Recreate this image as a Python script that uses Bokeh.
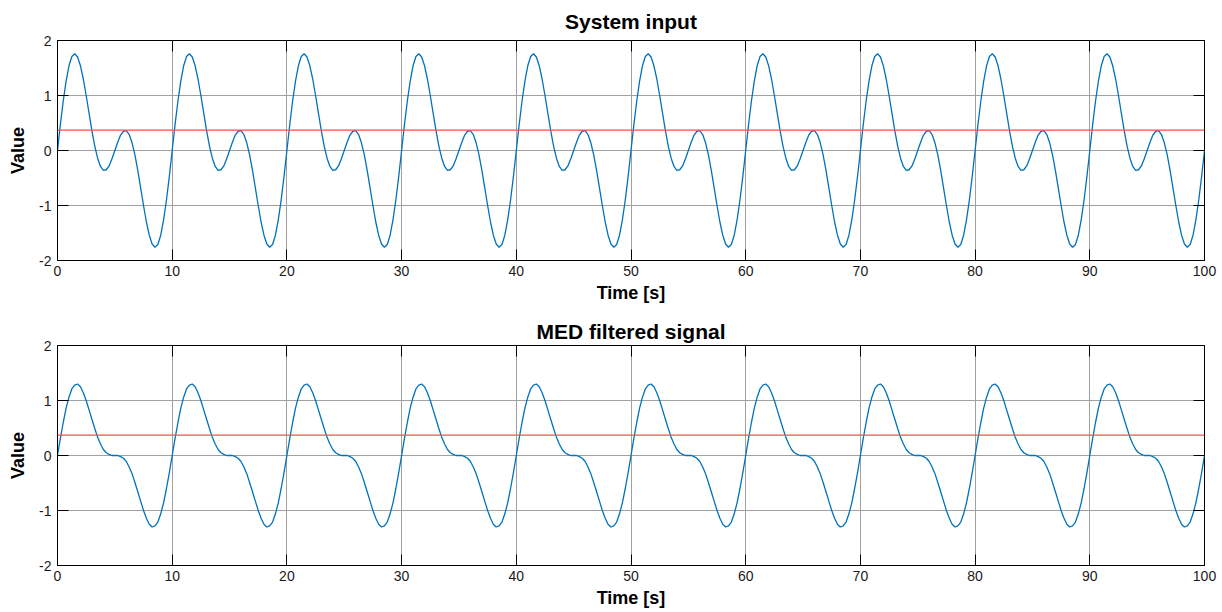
from bokeh.plotting import figure
from bokeh.models import Range1d, LinearAxis, Span, FixedTicker
from bokeh.layouts import column
from bokeh.embed import file_html
from bokeh.resources import INLINE

# One 10 s period of each signal, sampled every 0.25 s (t = 0 .. 9.75)
sample_step = 0.25
n_periods = 10

input_period = [
    0.00, 0.47, 0.90, 1.26, 1.54, 1.71, 1.76, 1.70, 1.54, 1.30,
    1.00, 0.68, 0.36, 0.08, -0.14, -0.29, -0.36, -0.35, -0.28, -0.15,
    0.00, 0.15, 0.28, 0.35, 0.36, 0.29, 0.14, -0.08, -0.36, -0.68,
    -1.00, -1.30, -1.54, -1.70, -1.76, -1.71, -1.54, -1.26, -0.90, -0.47,
]

med_period = [
    0.00, 0.31, 0.60, 0.86, 1.06, 1.21, 1.28, 1.30, 1.25, 1.14,
    1.00, 0.83, 0.66, 0.49, 0.33, 0.21, 0.11, 0.05, 0.02, 0.00,
    0.00, 0.00, -0.02, -0.05, -0.11, -0.21, -0.33, -0.49, -0.66, -0.83,
    -1.00, -1.14, -1.25, -1.30, -1.28, -1.21, -1.06, -0.86, -0.60, -0.31,
]

threshold = 0.37

x_ticks = [0, 10, 20, 30, 40, 50, 60, 70, 80, 90, 100]
y_ticks = [-2, -1, 0, 1, 2]
y_tick_labels = {-2: "-2", -1: "-1", 0: "0", 1: "1", 2: "2"}

titles = ["System input", "MED filtered signal"]
x_label = "Time [s]"
y_label = "Value"

# Full 100 s records: the period repeats, closing at t = 100
time = [i * sample_step for i in range(len(input_period) * n_periods + 1)]
input_signal = input_period * n_periods + [input_period[0]]
med_signal = med_period * n_periods + [med_period[0]]

FONT = "Liberation Sans"
LINE_BLUE = "#0072BD"
GRID = "#a0a0a0"


def style_axis(ax, ticks, show_labels):
    ax.ticker = FixedTicker(ticks=ticks)
    ax.major_tick_in = 11
    ax.major_tick_out = 0
    ax.minor_tick_in = 0
    ax.minor_tick_out = 0
    ax.major_tick_line_color = "black"
    ax.axis_line_color = "black"
    ax.major_label_text_font = FONT
    ax.major_label_text_font_size = "14px"
    ax.major_label_text_color = "#1a1a1a"
    if not show_labels:
        ax.major_label_text_color = None
        ax.major_label_text_font_size = "1px"
        ax.major_label_standoff = 0
        ax.axis_line_color = None


def make_panel(title, signal, top, bottom, title_gap):
    p = figure(
        frame_width=1147, frame_height=220,
        x_range=Range1d(0, 100), y_range=Range1d(-2, 2),
        output_backend="svg", toolbar_location=None,
        min_border_left=57, min_border_right=18,
        min_border_top=top, min_border_bottom=bottom,
        background_fill_color="white", border_fill_color="white",
    )
    p.outline_line_color = "black"
    p.outline_line_width = 1

    p.title.text = title
    p.title.align = "center"
    p.title.text_font = FONT
    p.title.text_font_style = "bold"
    p.title.text_font_size = "21px"
    p.title.text_color = "black"
    p.title.standoff = title_gap

    p.xaxis.axis_label = x_label
    p.yaxis.axis_label = y_label
    style_axis(p.xaxis[0], x_ticks, True)
    style_axis(p.yaxis[0], y_ticks, True)
    for ax in (p.xaxis[0], p.yaxis[0]):
        ax.axis_label_text_font = FONT
        ax.axis_label_text_font_style = "bold"
        ax.axis_label_text_font_size = "18px"
        ax.axis_label_text_color = "black"
    p.xaxis.major_label_standoff = 5
    p.yaxis.major_label_standoff = 6
    p.xaxis.axis_label_standoff = 4
    p.yaxis.axis_label_standoff = 8
    p.yaxis.major_label_overrides = y_tick_labels

    top_axis = LinearAxis()
    right_axis = LinearAxis()
    style_axis(top_axis, x_ticks, False)
    style_axis(right_axis, y_ticks, False)
    p.add_layout(top_axis, "above")
    p.add_layout(right_axis, "right")

    p.xgrid.ticker = FixedTicker(ticks=x_ticks)
    p.ygrid.ticker = FixedTicker(ticks=y_ticks)
    for g in (p.xgrid, p.ygrid):
        g.grid_line_color = GRID
        g.grid_line_width = 1

    p.line(time, signal, line_color=LINE_BLUE, line_width=1.3)
    p.add_layout(Span(location=threshold, dimension="width",
                      line_color="#ff4d4d", line_width=1.2))
    return p


p1 = make_panel(titles[0], input_signal, 40, 46, 15)
p2 = make_panel(titles[1], med_signal, 39, 47, 6)

layout = column(p1, p2, spacing=0)
open("out.html", "w").write(file_html(layout, INLINE))
